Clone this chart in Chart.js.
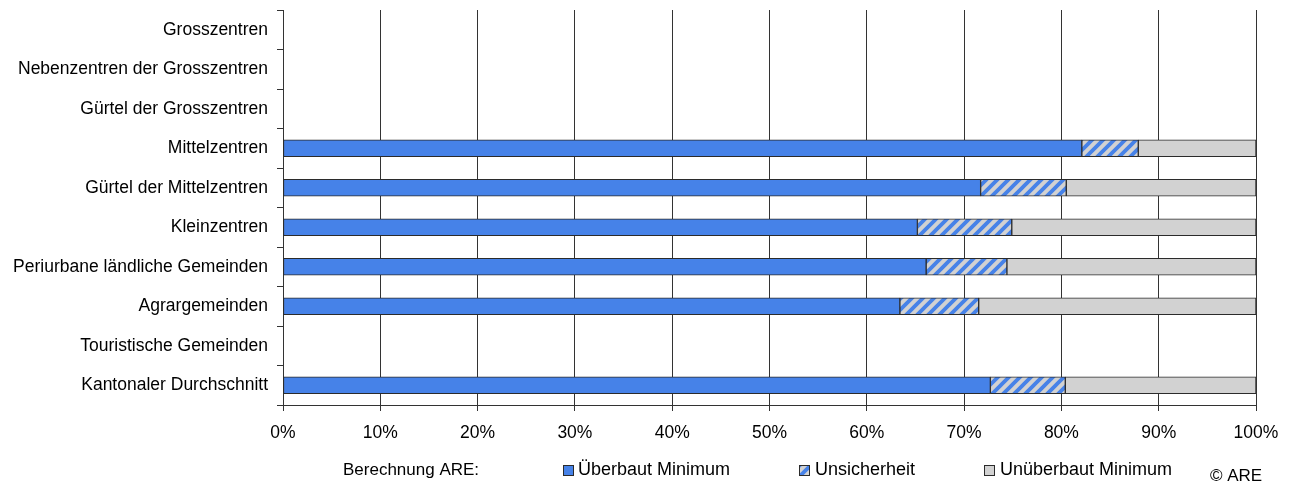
<!DOCTYPE html>
<html>
<head>
<meta charset="utf-8">
<script src="https://cdn.jsdelivr.net/npm/chart.js@4/dist/chart.umd.min.js"></script>
<style>
  html, body { margin: 0; padding: 0; background: #ffffff; }
  #wrap { width: 1292px; height: 486px; position: relative; }
</style>
</head>
<body>
<div id="wrap"><canvas id="c" width="1292" height="486"></canvas></div>
<script>
const categories = [
  "Grosszentren",
  "Nebenzentren der Grosszentren",
  "Gürtel der Grosszentren",
  "Mittelzentren",
  "Gürtel der Mittelzentren",
  "Kleinzentren",
  "Periurbane ländliche Gemeinden",
  "Agrargemeinden",
  "Touristische Gemeinden",
  "Kantonaler Durchschnitt"
];
const ueberbautMinimum   = [null, null, null, 82.1, 71.7, 65.2, 66.1, 63.4, null, 72.7];
const unsicherheit       = [null, null, null, 5.8, 8.8, 9.7, 8.3, 8.1, null, 7.7];
const unueberbautMinimum = [null, null, null, 12.1, 19.5, 25.1, 25.6, 28.5, null, 19.6];
const seriesNames = ["Überbaut Minimum", "Unsicherheit", "Unüberbaut Minimum"];
const xTicks = [0, 10, 20, 30, 40, 50, 60, 70, 80, 90, 100];
const legendTitle = "Berechnung ARE:";
const copyrightText = "© ARE";

const FONT = "'Liberation Sans', Arial, sans-serif";
const BLUE = "#4682E8";
const GRAY = "#D2D2D2";
const EDGE = "#2b2b2b";

function hatchPattern() {
  const s = 11;
  const t = document.createElement('canvas');
  t.width = s; t.height = s;
  const g = t.getContext('2d');
  g.fillStyle = GRAY;
  g.fillRect(0, 0, s, s);
  g.strokeStyle = BLUE;
  g.lineWidth = 3.8;
  g.beginPath();
  g.moveTo(-s / 2, s / 2); g.lineTo(s / 2, -s / 2);
  g.moveTo(0, s); g.lineTo(s, 0);
  g.moveTo(s / 2, s * 1.5); g.lineTo(s * 1.5, s / 2);
  g.stroke();
  return document.getElementById('c').getContext('2d').createPattern(t, 'repeat');
}
const HATCH = hatchPattern();

const legendPos = [
  { box: 563, text: 578 },
  { box: 799, text: 815 },
  { box: 984, text: 1000 }
];

const legendPlugin = {
  id: 'customLegend',
  afterDraw(chart) {
    const ctx = chart.ctx;
    ctx.save();
    ctx.font = "17px " + FONT;
    ctx.fillStyle = "#000";
    ctx.textBaseline = "middle";
    ctx.textAlign = "left";
    ctx.fillText(legendTitle, 343, 470);
    ctx.font = "18px " + FONT;
    chart.data.datasets.forEach((ds, i) => {
      const p = legendPos[i];
      ctx.fillStyle = ds.backgroundColor;
      ctx.fillRect(p.box + 0.5, 465.5, 10, 10);
      ctx.strokeStyle = EDGE;
      ctx.lineWidth = 1;
      ctx.strokeRect(p.box + 0.5, 465.5, 10, 10);
      ctx.fillStyle = "#000";
      ctx.fillText(ds.label, p.text, 470);
    });
    ctx.font = "17px " + FONT;
    ctx.fillText(copyrightText, 1210, 476);
    ctx.restore();
  }
};

new Chart(document.getElementById('c'), {
  type: 'bar',
  data: {
    labels: categories,
    datasets: [
      { label: seriesNames[0], data: ueberbautMinimum, backgroundColor: BLUE },
      { label: seriesNames[1], data: unsicherheit, backgroundColor: HATCH },
      { label: seriesNames[2], data: unueberbautMinimum, backgroundColor: GRAY }
    ]
  },
  options: {
    indexAxis: 'y',
    responsive: false,
    animation: false,
    layout: { padding: { top: 10, right: 36, bottom: 0, left: 0 } },
    datasets: {
      bar: { barThickness: 17, borderWidth: 1, borderColor: EDGE, borderSkipped: false }
    },
    plugins: {
      legend: { display: false },
      tooltip: { enabled: false },
      title: { display: false }
    },
    scales: {
      x: {
        stacked: true,
        min: 0, max: 100,
        afterBuildTicks(scale) { scale.ticks = xTicks.map(v => ({ value: v })); },
        afterFit(scale) { scale.height = 81; scale.paddingLeft = 0; scale.paddingRight = 0; },
        ticks: {
          callback: v => v + '%',
          color: '#000',
          font: { family: FONT, size: 17.5 },
          padding: 12,
          maxRotation: 0
        },
        grid: { color: '#333333', lineWidth: 1, tickLength: 6, drawOnChartArea: true },
        border: { color: '#333333', width: 1 }
      },
      y: {
        stacked: true,
        afterFit(scale) { scale.width = 283; scale.paddingTop = 0; scale.paddingBottom = 0; },
        ticks: {
          color: '#000',
          font: { family: FONT, size: 17.5 },
          padding: 9
        },
        grid: { offset: true, drawOnChartArea: false, drawTicks: true, tickLength: 6, color: '#333333' },
        border: { color: '#333333', width: 1 }
      }
    }
  },
  plugins: [legendPlugin]
});
</script>
</body>
</html>
